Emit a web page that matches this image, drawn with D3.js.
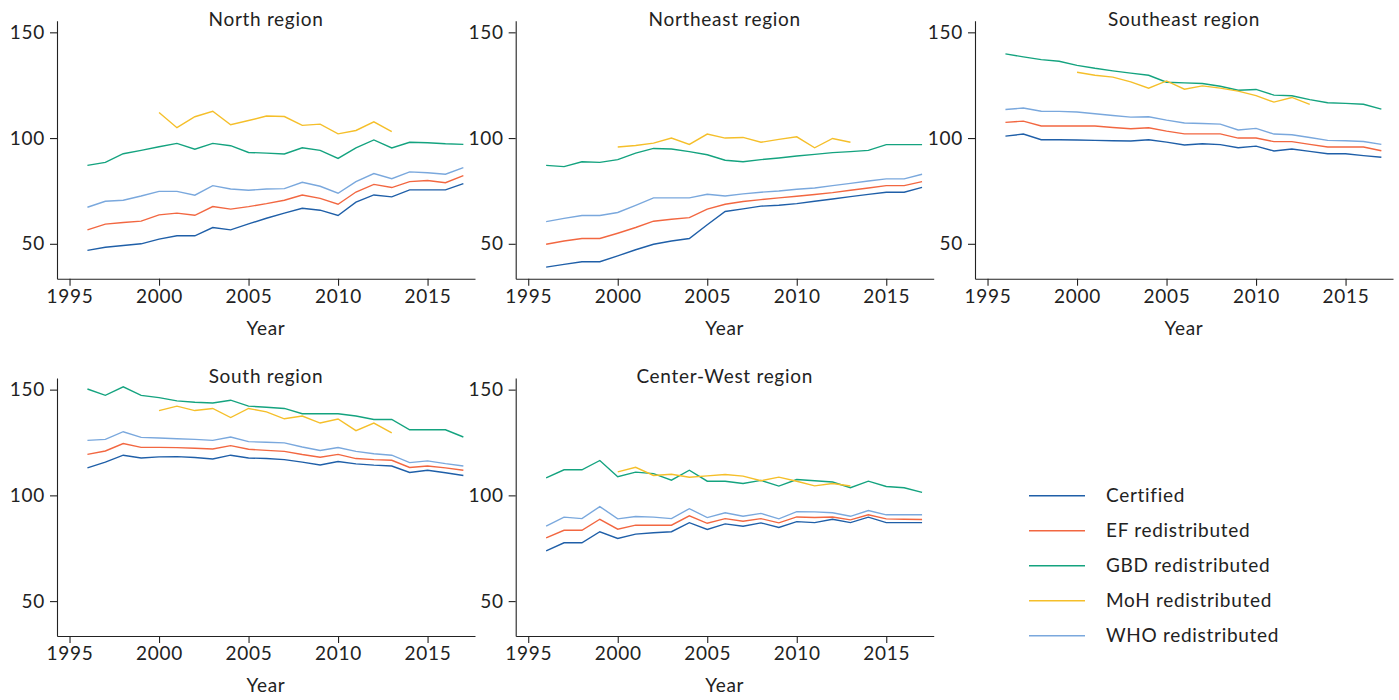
<!DOCTYPE html>
<html>
<head>
<meta charset="utf-8">
<script src="https://cdnjs.cloudflare.com/ajax/libs/d3/7.8.5/d3.min.js"></script>
<style>
body { margin: 0; background: #fff; }
svg text { font-family: Lato, "Open Sans", sans-serif; fill: #222; letter-spacing: 0.7px; }
</style>
</head>
<body>
<svg id="chart" width="1399" height="700"></svg>
<script>
// years
const years = d3.range(1996, 2018);
const mohYears = d3.range(2000, 2014);

const seriesNames = ["Certified", "EF redistributed", "GBD redistributed", "MoH redistributed", "WHO redistributed"];
const seriesColors = ["#1f5fa8", "#f26741", "#14a37f", "#f5bf2a", "#7aa8dd"];

const yTicks = [50, 100, 150];
const xTicks = [1995, 2000, 2005, 2010, 2015];

// North
const northCertified = [46.9,48.4,49.2,50.0,52.2,53.8,53.8,57.7,56.6,59.4,62.1,64.5,66.8,65.9,63.4,69.7,73.1,72.2,75.5,75.5,75.5,78.5];
const northEF = [56.6,59.3,60.1,60.7,63.7,64.5,63.5,67.6,66.4,67.6,69.0,70.6,73.1,71.5,68.7,74.5,78.1,76.6,79.4,79.9,78.9,82.2];
const northGBD = [87.1,88.5,92.6,94.2,95.9,97.5,94.7,97.5,96.4,93.2,92.9,92.5,95.4,94.2,90.4,95.4,99.1,95.3,98.0,97.8,97.3,97.0];
const northMoH = [112.1,104.9,110.1,112.7,106.3,108.3,110.4,110.2,106.0,106.6,102.0,103.6,107.7,103.1];
const northWHO = [67.3,70.1,70.6,72.6,74.8,74.8,73.0,77.5,75.9,75.3,75.9,76.1,79.1,77.2,73.9,79.4,83.2,80.8,84.0,83.6,82.9,86.0];

// Northeast
const northeastCertified = [39.0,40.3,41.5,41.5,44.3,47.2,49.8,51.3,52.5,59.0,65.3,66.5,67.8,68.2,69.0,70.1,71.2,72.3,73.4,74.4,74.4,76.7];
const northeastEF = [49.8,51.3,52.5,52.5,55.0,57.7,60.7,61.6,62.4,66.4,68.7,70.0,70.9,71.7,72.5,73.3,74.2,75.3,76.4,77.5,77.5,79.4];
const northeastGBD = [87.1,86.5,88.8,88.5,89.8,92.9,95.1,94.8,93.6,92.1,89.5,88.8,89.8,90.6,91.5,92.3,93.1,93.6,94.2,96.9,96.9,96.9];
const northeastMoH = [95.8,96.5,97.6,100.0,97.0,101.9,100.0,100.3,98.0,99.4,100.6,95.4,99.8,98.0];
const northeastWHO = [60.5,62.0,63.4,63.4,64.8,68.2,71.7,71.7,71.7,73.4,72.6,73.6,74.4,75.0,75.8,76.4,77.5,78.6,79.7,80.7,80.7,82.9];

// Southeast
const southeastCertified = [100.9,101.9,99.2,99.2,99.1,98.9,98.7,98.6,99.2,98.1,96.7,97.3,96.9,95.4,96.2,93.9,94.8,93.7,92.6,92.6,91.7,90.9];
const southeastEF = [107.4,108.0,105.7,105.7,105.7,105.7,105.0,104.4,104.9,103.3,102.0,102.0,102.0,100.0,100.0,98.3,98.3,97.0,95.8,95.8,95.8,94.0];
const southeastGBD = [139.8,138.4,137.1,136.3,134.4,133.0,131.8,130.7,129.7,126.4,126.1,125.8,124.5,122.6,123.0,120.3,120.0,118.2,116.7,116.4,116.0,113.7];
const southeastMoH = [131.1,129.7,128.8,126.6,123.6,127.0,123.1,124.7,123.6,122.2,120.1,117.0,119.2,115.9];
const southeastWHO = [113.5,114.2,112.7,112.6,112.3,111.5,110.7,109.9,110.1,108.5,107.1,106.9,106.6,103.8,104.6,101.9,101.6,100.3,98.9,98.7,98.4,97.0];

// South
const southCertified = [113.0,115.7,119.0,117.7,118.2,118.3,117.9,117.2,119.0,117.7,117.4,116.9,115.7,114.4,116.0,114.9,114.3,113.9,110.8,111.9,110.7,109.4];
const southEF = [119.4,121.0,124.5,122.7,122.7,122.6,122.3,121.9,123.5,121.8,121.3,120.8,119.3,118.0,119.4,117.4,116.9,116.6,113.2,113.9,113.0,111.9];
const southGBD = [150.3,147.3,151.3,147.3,146.2,144.7,144.0,143.7,145.0,142.2,141.7,141.1,138.6,138.6,138.6,137.5,135.9,135.9,131.0,131.0,131.0,127.6];
const southMoH = [140.1,142.2,140.1,141.1,136.8,141.1,139.5,136.2,137.5,134.2,136.1,130.6,134.2,129.5];
const southWHO = [126.0,126.5,130.1,127.4,127.1,126.8,126.5,126.0,127.6,125.4,125.1,124.8,122.9,121.2,122.6,120.8,119.7,119.0,115.5,116.3,115.0,113.9];

// Center-West
const centerWestCertified = [73.8,77.6,77.6,82.8,79.6,81.7,82.3,82.8,87.1,83.9,86.5,85.4,87.0,84.8,87.6,87.1,88.7,87.1,89.7,87.1,87.1,87.1];
const centerWestEF = [79.9,83.5,83.5,88.7,84.0,85.9,85.9,85.9,90.3,86.8,89.0,87.8,89.0,87.0,89.8,89.5,89.8,88.4,90.8,88.9,88.7,88.6];
const centerWestGBD = [108.3,112.1,112.1,116.5,108.8,111.0,110.3,107.2,111.9,106.7,106.7,105.6,107.1,104.4,107.5,106.9,106.3,103.6,106.7,104.2,103.6,101.4];
const centerWestMoH = [111.1,113.3,109.4,110.0,108.6,109.2,109.9,109.1,106.9,108.6,106.7,104.5,105.6,104.4];
const centerWestWHO = [85.4,89.7,89.0,94.7,88.9,90.0,89.7,89.0,93.7,89.5,91.8,90.1,91.5,88.9,92.3,92.2,91.8,90.1,92.8,90.8,90.8,90.8];

const regions = [
  { title: "North region", series: [northCertified, northEF, northGBD, northMoH, northWHO] },
  { title: "Northeast region", series: [northeastCertified, northeastEF, northeastGBD, northeastMoH, northeastWHO] },
  { title: "Southeast region", series: [southeastCertified, southeastEF, southeastGBD, southeastMoH, southeastWHO] },
  { title: "South region", series: [southCertified, southEF, southGBD, southMoH, southWHO] },
  { title: "Center-West region", series: [centerWestCertified, centerWestEF, centerWestGBD, centerWestMoH, centerWestWHO] }
];

const svg = d3.select("#chart");

const plotW = 418, plotTop = 20.7, plotBottom = 278.7;
const colX = [57, 515.7, 975];
const rowY = [0, 357.3];

const x = d3.scaleLinear().domain([1994.3, 2017.65]).range([0, plotW]);
const y = d3.scaleLinear().domain([33.5, 155.5]).range([plotBottom, plotTop]);

regions.forEach((r, i) => {
  const g = svg.append("g")
    .attr("transform", `translate(${colX[i % 3]},${rowY[Math.floor(i / 3)]})`);

  const xAxis = g.append("g")
    .attr("transform", `translate(0,${plotBottom})`)
    .call(d3.axisBottom(x).tickValues(xTicks).tickFormat(d3.format("d")).tickSize(7).tickSizeOuter(0).tickPadding(4));
  const yAxis = g.append("g")
    .call(d3.axisLeft(y).tickValues(yTicks).tickSize(7).tickSizeOuter(0).tickPadding(5));

  [xAxis, yAxis].forEach(a => {
    a.selectAll("path, line").attr("stroke", "#222").attr("stroke-width", 1.1);
    a.selectAll("text").style("font-size", "19px").attr("fill", "#222");
  });

  g.append("text")
    .attr("x", plotW / 2)
    .attr("y", 26)
    .attr("text-anchor", "middle")
    .style("font-size", "19px")
    .text(r.title);

  g.append("text")
    .attr("x", plotW / 2)
    .attr("y", 335)
    .attr("text-anchor", "middle")
    .style("font-size", "19px")
    .text("Year");

  r.series.forEach((vals, k) => {
    const yrs = k === 3 ? mohYears : years;
    const line = d3.line()
      .x((d, j) => x(yrs[j]))
      .y(d => y(d));
    g.append("path")
      .datum(vals)
      .attr("fill", "none")
      .attr("stroke", seriesColors[k])
      .attr("stroke-width", 1.4)
      .attr("d", line);
  });
});

// legend
const legend = svg.append("g").attr("transform", "translate(1029,495.7)");
seriesNames.forEach((name, k) => {
  const row = legend.append("g").attr("transform", `translate(0,${k * 35})`);
  row.append("line")
    .attr("x1", 0).attr("x2", 56)
    .attr("stroke", seriesColors[k])
    .attr("stroke-width", 1.4);
  row.append("text")
    .attr("x", 77)
    .attr("dy", "0.35em")
    .style("font-size", "19px")
    .text(name);
});
</script>
</body>
</html>
